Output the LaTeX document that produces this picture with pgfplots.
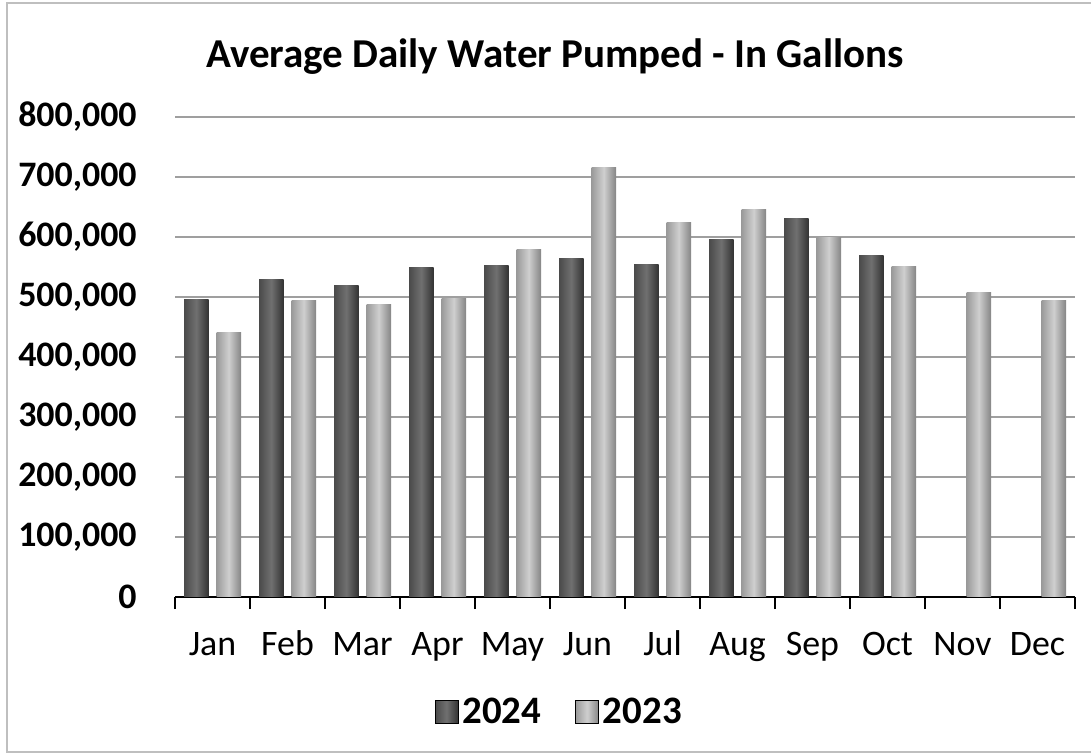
\documentclass[border=0pt]{standalone}
\usepackage{pgfplots}
\pgfplotsset{compat=1.18}
\usepackage{fontspec}
\setmainfont{Carlito}
\definecolor{dL}{HTML}{4A4A4A}
\definecolor{dM}{HTML}{707070}
\definecolor{dR}{HTML}{333333}
\definecolor{lL}{HTML}{9A9A9A}
\definecolor{lM}{HTML}{CFCFCF}
\definecolor{lR}{HTML}{858585}
\pgfplotsset{
  bA/.style={draw=none, left color=dL, right color=dR, middle color=dM, bar shift=-8.125bp, forget plot},
  bB/.style={draw=none, left color=lL, right color=lR, middle color=lM, bar shift=8.125bp, forget plot},
}
\newcommand{\barA}[2]{\addplot[bA] coordinates {(#1,#2)};}
\newcommand{\barB}[2]{\addplot[bB] coordinates {(#1,#2)};}
\begin{document}
\begin{tikzpicture}
\useasboundingbox (0,0) rectangle (545.5bp,377.5bp);
\draw[gray!50, line width=1bp] (3.5bp,1.5bp) rectangle (560bp,376bp);
\node[font=\bfseries\fontsize{20.6}{25}\selectfont, anchor=base] at (277.5bp,343.5bp) {Average Daily Water Pumped - In Gallons};
\begin{axis}[
  at={(87.5bp,79bp)}, anchor=south west,
  scale only axis, width=450bp, height=240bp,
  ybar, bar width=12.25bp,
  xmin=-0.5, xmax=11.5, ymin=0, ymax=800000,
  axis lines*=left,
  x axis line style={black, line width=1bp},
  y axis line style={draw=none},
  xtick={0,...,11},
  xticklabels={Jan,Feb,Mar,Apr,May,Jun,Jul,Aug,Sep,Oct,Nov,Dec},
  minor xtick={-0.5,0.5,...,11.5},
  major tick length=0pt,
  minor tick length=6bp,
  xtick align=outside,
  minor x tick style={black, line width=1bp},
  ytick={0,100000,...,800000},
  ytick style={draw=none},
  scaled y ticks=false,
  ymajorgrids,
  grid style={gray!75, line width=0.7bp},
  /pgf/number format/assume math mode=true,
  /pgf/number format/.cd, fixed, 1000 sep={,}, /pgfplots/.cd,
  yticklabel style={font=\bfseries\fontsize{18}{21}\selectfont, anchor=east, inner sep=0pt, xshift=-19bp},
  xticklabel style={font=\fontsize{18}{21}\selectfont, anchor=base, yshift=-29bp},
  legend style={at={(0.428,-0.2396)}, anchor=center, draw=none, fill=none,
    legend columns=2, font=\bfseries\fontsize{19.5}{22}\selectfont,
    /tikz/every even column/.append style={column sep=15bp}},
  legend image code/.code={\fill[#1] (-3bp,-5.75bp) rectangle (8.5bp,5.75bp);},
]
% 2024
\barA{0}{496000}
\barA{1}{529000}
\barA{2}{520000}
\barA{3}{550000}
\barA{4}{553000}
\barA{5}{565000}
\barA{6}{554000}
\barA{7}{595500}
\barA{8}{631600}
\barA{9}{570000}
% 2023
\barB{0}{441000}
\barB{1}{494000}
\barB{2}{487000}
\barB{3}{498000}
\barB{4}{579000}
\barB{5}{716000}
\barB{6}{624000}
\barB{7}{645500}
\barB{8}{600000}
\barB{9}{551000}
\barB{10}{508000}
\barB{11}{495000}
\addlegendimage{left color=dL, right color=dR, middle color=dM}
\addlegendentry{2024}
\addlegendimage{left color=lL, right color=lR, middle color=lM}
\addlegendentry{2023}
\end{axis}
\end{tikzpicture}
\end{document}
